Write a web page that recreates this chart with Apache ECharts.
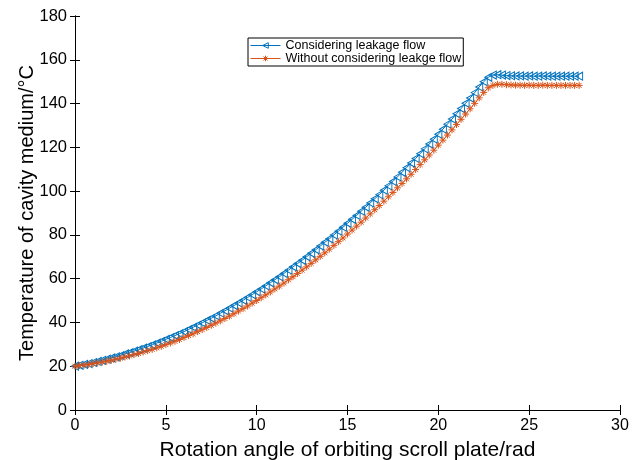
<!DOCTYPE html>
<html>
<head>
<meta charset="UTF-8">
<title>Temperature of cavity medium</title>
<style>
  html, body { margin: 0; padding: 0; background: #fff; }
  #chart { width: 644px; height: 460px; }
</style>
</head>
<body>
<div id="chart"></div>
<script src="https://cdn.jsdelivr.net/npm/echarts@6/dist/echarts.min.js"></script>
<script>
// rotation angle (rad)
var angle = [
  0, 0.25, 0.5, 0.75, 1.0, 1.25, 1.5, 1.75, 2.0, 2.25,
  2.5, 2.75, 3.0, 3.25, 3.5, 3.75, 4.0, 4.25, 4.5, 4.75,
  5.0, 5.25, 5.5, 5.75, 6.0, 6.25, 6.5, 6.75, 7.0, 7.25,
  7.5, 7.75, 8.0, 8.25, 8.5, 8.75, 9.0, 9.25, 9.5, 9.75,
  10.0, 10.25, 10.5, 10.75, 11.0, 11.25, 11.5, 11.75, 12.0, 12.25,
  12.5, 12.75, 13.0, 13.25, 13.5, 13.75, 14.0, 14.25, 14.5, 14.75,
  15.0, 15.25, 15.5, 15.75, 16.0, 16.25, 16.5, 16.75, 17.0, 17.25,
  17.5, 17.75, 18.0, 18.25, 18.5, 18.75, 19.0, 19.25, 19.5, 19.75,
  20.0, 20.25, 20.5, 20.75, 21.0, 21.25, 21.5, 21.75, 22.0, 22.25,
  22.5, 22.75, 23.0, 23.25, 23.5, 23.75, 24.0, 24.25, 24.5, 24.75,
  25.0, 25.25, 25.5, 25.75, 26.0, 26.25, 26.5, 26.75, 27.0, 27.25,
  27.5, 27.75
];
// considering leakage flow (°C)
var withLeak = [
  20.0, 20.4, 20.8, 21.2, 21.7, 22.2, 22.7, 23.2, 23.8, 24.3,
  24.9, 25.6, 26.2, 26.9, 27.6, 28.3, 29.0, 29.8, 30.6, 31.4,
  32.3, 33.1, 34.0, 34.9, 35.8, 36.8, 37.8, 38.8, 39.8, 40.9,
  41.9, 43.0, 44.2, 45.3, 46.5, 47.7, 48.9, 50.1, 51.4, 52.7,
  54.0, 55.3, 56.7, 58.1, 59.5, 60.9, 62.4, 63.9, 65.4, 66.9,
  68.4, 70.0, 71.6, 73.2, 74.9, 76.6, 78.2, 80.0, 81.7, 83.5,
  85.3, 87.1, 88.9, 90.8, 92.6, 94.6, 96.5, 98.4, 100.4, 102.4,
  104.4, 106.5, 108.6, 110.7, 112.8, 114.9, 117.1, 119.3, 121.5, 123.7,
  126.0, 128.3, 130.6, 132.9, 135.3, 137.7, 140.1, 142.5, 145.0, 147.6,
  150.0, 152.0, 153.0, 153.2, 153.0, 152.8, 152.7, 152.6, 152.6, 152.5,
  152.6, 152.5, 152.5, 152.6, 152.5, 152.5, 152.5, 152.5, 152.5, 152.5,
  152.5, 152.5
];
// without considering leakage flow (°C)
var withoutLeak = [
  20.0, 20.3, 20.5, 20.8, 21.2, 21.5, 21.9, 22.3, 22.7, 23.2,
  23.7, 24.2, 24.7, 25.3, 25.8, 26.5, 27.1, 27.7, 28.4, 29.1,
  29.9, 30.6, 31.4, 32.2, 33.1, 34.0, 34.8, 35.8, 36.7, 37.7,
  38.7, 39.7, 40.7, 41.8, 42.9, 44.0, 45.2, 46.3, 47.5, 48.8,
  50.0, 51.3, 52.6, 53.9, 55.3, 56.6, 58.0, 59.5, 60.9, 62.4,
  63.9, 65.4, 67.0, 68.6, 70.2, 71.8, 73.5, 75.2, 76.9, 78.6,
  80.4, 82.2, 84.0, 85.8, 87.7, 89.6, 91.5, 93.4, 95.4, 97.4,
  99.4, 101.5, 103.5, 105.6, 107.7, 109.9, 112.1, 114.3, 116.5, 118.7,
  121.0, 123.3, 125.6, 128.0, 130.4, 132.8, 135.2, 137.6, 140.1, 142.6,
  145.1, 147.2, 148.3, 148.8, 148.8, 148.6, 148.5, 148.4, 148.4, 148.3,
  148.4, 148.3, 148.3, 148.4, 148.3, 148.3, 148.3, 148.3, 148.3, 148.3,
  148.3, 148.3
];

function pairs(xs, ys) {
  var out = [];
  for (var i = 0; i < xs.length; i++) out.push([xs[i], ys[i]]);
  return out;
}

var BLUE = '#0072BD';
var ORANGE = '#D95319';
var FONT = 'Liberation Sans, Arial, sans-serif';

var triLeft = 'path://M0,4L8,0L8,8Z';
var star = 'path://M5,0L5,10M0,5L10,5M1.5,1.5L8.5,8.5M1.5,8.5L8.5,1.5';

var chart = echarts.init(document.getElementById('chart'));
var option = {
  animation: false,
  backgroundColor: '#fff',
  grid: { left: 75, right: 24, top: 16, bottom: 50, outerBoundsMode: 'none', containLabel: false },
  legend: {
    left: 248, top: 38,
    orient: 'vertical',
    itemGap: 0,
    itemWidth: 30, itemHeight: 7,
    padding: [1, 2, 1, 2],
    borderColor: '#000', borderWidth: 1,
    backgroundColor: '#fff',
    lineStyle: { width: 1 },
    textStyle: { fontFamily: FONT, fontSize: 12.5, color: '#000', lineHeight: 11 },
    data: [
      { name: 'Considering leakage flow',
        itemStyle: { color: 'none', borderColor: BLUE, borderWidth: 1 } },
      { name: 'Without considering leakge flow',
        itemStyle: { color: 'none', borderColor: ORANGE, borderWidth: 1 } }
    ]
  },
  xAxis: [{
    type: 'value', min: 0, max: 30, interval: 5,
    name: 'Rotation angle of orbiting scroll plate/rad',
    nameLocation: 'middle', nameGap: 30, nameMoveOverlap: false,
    nameTextStyle: { fontFamily: FONT, fontSize: 21, color: '#000' },
    axisLine: { lineStyle: { color: '#000', width: 1 } },
    axisTick: { inside: true, length: 5, lineStyle: { color: '#000' } },
    axisLabel: { fontFamily: FONT, fontSize: 16, color: '#000', margin: 8 },
    splitLine: { show: false }
  }, {
    type: 'value', min: 0, max: 30, interval: 5, position: 'top',
    axisLine: { show: true, lineStyle: { color: '#000', width: 1 } },
    axisTick: { inside: true, length: 5, lineStyle: { color: '#000' } },
    axisLabel: { show: false },
    splitLine: { show: false }
  }],
  yAxis: [{
    type: 'value', min: 0, max: 180, interval: 20,
    name: 'Temperature of cavity medium/°C',
    nameLocation: 'middle', nameGap: 38, nameMoveOverlap: false,
    nameTextStyle: { fontFamily: FONT, fontSize: 20, color: '#000' },
    axisLine: { show: true, lineStyle: { color: '#000', width: 1 } },
    axisTick: { show: true, inside: true, length: 5, lineStyle: { color: '#000' } },
    axisLabel: { fontFamily: FONT, fontSize: 16.5, color: '#000', margin: 8 },
    splitLine: { show: false }
  }, {
    type: 'value', min: 0, max: 180, interval: 20, position: 'right',
    axisLine: { show: true, lineStyle: { color: '#000', width: 1 } },
    axisTick: { show: true, inside: true, length: 5, lineStyle: { color: '#000' } },
    axisLabel: { show: false },
    splitLine: { show: false }
  }],
  series: [{
    name: 'Considering leakage flow',
    type: 'line',
    data: pairs(angle, withLeak),
    symbol: triLeft, symbolSize: [7, 8],
    showAllSymbol: true,
    lineStyle: { color: BLUE, width: 1 },
    itemStyle: { color: 'none', borderColor: BLUE, borderWidth: 1 }
  }, {
    name: 'Without considering leakge flow',
    type: 'line',
    data: pairs(angle, withoutLeak),
    symbol: star, symbolSize: 7,
    showAllSymbol: true,
    lineStyle: { color: ORANGE, width: 1 },
    itemStyle: { color: 'none', borderColor: ORANGE, borderWidth: 1 }
  }]
};
chart.setOption(option);
</script>
</body>
</html>
